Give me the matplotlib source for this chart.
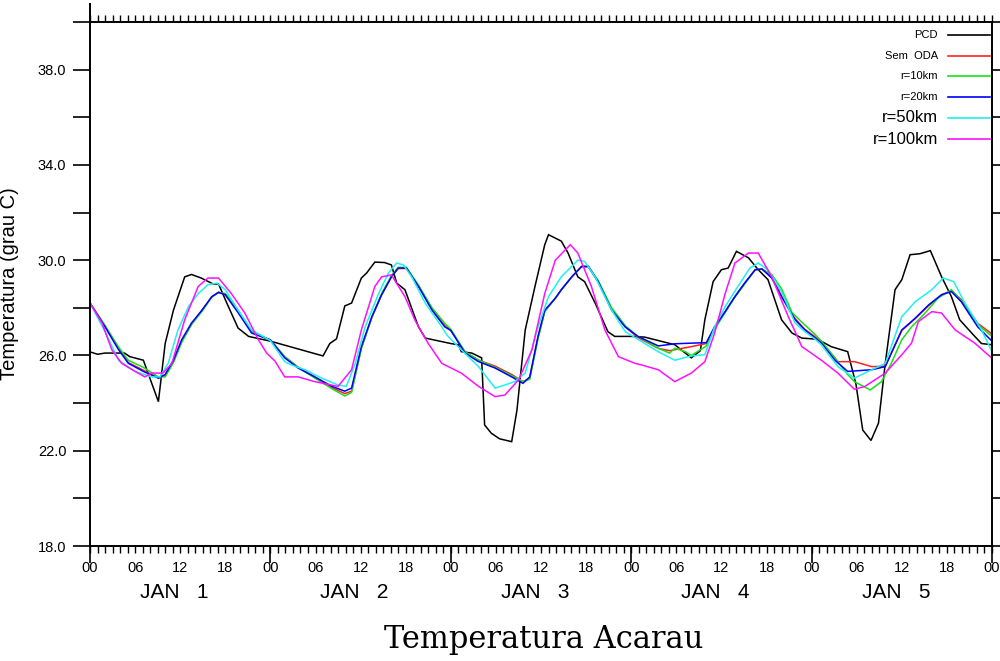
import matplotlib
matplotlib.use("Agg")
import matplotlib.pyplot as plt
from matplotlib.lines import Line2D
from matplotlib.ticker import FixedLocator, FuncFormatter

# ---------------- data (hours since 00Z Jan 1, temperature in C) ----------------
pcd_h = [0, 1, 2, 3, 4.6, 5.3, 7.1, 9.1, 10, 11.1, 12.6, 13.5, 14.8, 16.4, 17.1, 18.2, 19.7, 21.1,
         24, 31, 31.9, 32.8, 33.9, 34.8, 36.1, 36.8, 37.9, 39.2, 40.1, 40.8, 41.9, 43.7, 44.6,
         48, 49, 49.4, 50.8, 52.1, 52.5, 53.4, 54.5, 56.1, 56.8, 57.9, 59.2, 60.5, 61, 62.7, 63.6,
         64.9, 65.8, 67.2, 68.9, 69.8, 72, 73.8, 77.8, 80, 81.2, 81.8, 82.9, 84, 84.9, 86, 87.6,
         88.9, 90.2, 92, 93.4, 94.7, 96.8, 98.6, 100.8, 101.9, 102.8, 103.9, 104.9, 105.8, 107.1,
         108, 109.1, 110.4, 111.8, 113.3, 114.6, 115.7, 117.3, 118.6, 120]
pcd_t = [26.15, 26.05, 26.1, 26.1, 26.1, 25.95, 25.8, 24.06, 26.5, 27.9, 29.3, 29.4, 29.25, 29.0, 29.0, 28.2, 27.15, 26.8,
         26.6, 25.98, 26.5, 26.7, 28.08, 28.2, 29.25, 29.46, 29.92, 29.9, 29.8, 29.04, 28.76, 27.2, 26.73,
         26.5, 26.45, 26.16, 26.1, 25.9, 23.08, 22.73, 22.5, 22.38, 23.7, 27.07, 28.9, 30.65, 31.07, 30.8, 30.3,
         29.3, 29.1, 28.2, 27.0, 26.8, 26.8, 26.77, 26.45, 25.9, 26.2, 27.5, 29.1, 29.6, 29.67, 30.37, 30.1,
         29.6, 29.18, 27.5, 26.94, 26.73, 26.68, 26.37, 26.16, 24.8, 22.87, 22.43, 23.16, 25.67, 28.76,
         29.18, 30.23, 30.27, 30.4, 29.3, 28.47, 27.5, 26.94, 26.5, 26.45]

r20_h = [0, 2, 3.8, 5.1, 7.1, 9.1, 10, 11.1, 12.2, 13.5, 14.9, 16.2, 17.1, 18, 19.7, 21.5,
         24, 25.9, 27.7, 29.9, 32.2, 33.9, 34.8, 36.1, 37.5, 38.8, 40.1, 41, 42.1, 43.7, 45.5, 47.2,
         48, 49.9, 51.7, 53.9, 56.1, 57.6, 58.5, 59.6, 60.5, 61.9, 62.7, 64.1, 65.4, 66.3, 67.6, 69.4, 71.2,
         72.9, 75.6, 77.8, 82, 83.1, 84.5, 85.8, 87.1, 88.5, 89.4, 90.7, 92, 93.8, 95.1,
         96.4, 97.3, 99.1, 100.8, 104, 105.8, 108, 109.8, 111.6, 113.3, 114.6, 115.9, 118.1, 120]
r20_t = [28.2, 27.2, 26.24, 25.67, 25.33, 25.05, 25.2, 25.8, 26.66, 27.36, 27.9, 28.47, 28.65, 28.55, 27.8, 26.94,
         26.65, 25.9, 25.47, 25.1, 24.7, 24.5, 24.63, 26.37, 27.63, 28.55, 29.3, 29.67, 29.67, 28.9, 27.9, 27.2,
         27.05, 26.1, 25.74, 25.47, 25.1, 24.83, 25.1, 26.8, 27.9, 28.4, 28.76, 29.3, 29.74, 29.74, 29.1, 27.9, 27.2,
         26.8, 26.4, 26.49, 26.54, 27.2, 27.84, 28.47, 29.04, 29.6, 29.63, 29.25, 28.47, 27.5, 27.07,
         26.75, 26.52, 25.8, 25.33, 25.4, 25.53, 27.07, 27.57, 28.13, 28.55, 28.68, 28.26, 27.2, 26.6]

sem_h = [0, 2, 3.8, 5.1, 7.1, 9.1, 10, 11.1, 12.2, 13.5, 14.9, 16.2, 17.1, 18, 19.7, 21.5,
         24, 25.9, 27.7, 29.9, 32.2, 33.9, 34.8, 36.1, 37.5, 38.8, 40.1, 41, 42.1, 43.7, 45.5, 47.2,
         48, 49.9, 51.7, 53.9, 56.1, 57.6, 58.5, 59.6, 60.5, 61.9, 62.7, 64.1, 65.4, 66.3, 67.6, 69.4, 71.2,
         72.9, 75.6, 77.1, 80, 82, 83.1, 84.5, 85.8, 87.1, 88.5, 89.4, 90.7, 92, 93.8, 95.1,
         96.4, 97.3, 99.5, 101.7, 104, 105.8, 108, 109.8, 111.6, 113.3, 114.6, 115.9, 118.1, 120]
sem_t = [28.2, 27.25, 26.3, 25.7, 25.38, 25.05, 25.15, 25.75, 26.6, 27.3, 27.9, 28.45, 28.65, 28.55, 27.85, 27.0,
         26.65, 25.95, 25.5, 25.1, 24.65, 24.4, 24.5, 26.3, 27.6, 28.55, 29.3, 29.65, 29.65, 28.9, 27.95, 27.25,
         27.05, 26.15, 25.8, 25.55, 25.2, 24.9, 25.05, 26.75, 27.85, 28.4, 28.75, 29.3, 29.72, 29.72, 29.1, 27.95, 27.2,
         26.75, 26.3, 26.2, 26.37, 26.5, 27.2, 27.84, 28.47, 29.04, 29.6, 29.63, 29.3, 28.5, 27.55, 27.1,
         26.8, 26.55, 25.74, 25.74, 25.53, 25.55, 27.05, 27.55, 28.1, 28.55, 28.72, 28.35, 27.35, 26.9]

r10_h = [0, 2, 3.8, 5.1, 7.1, 9.1, 10, 11.1, 12.2, 13.5, 14.9, 16.2, 17.1, 18, 19.7, 21.5,
         24, 25.9, 27.7, 29.9, 32.2, 33.9, 34.8, 36.1, 37.5, 38.8, 40.1, 41, 42.1, 43.7, 45.5, 47.2,
         48, 49.9, 51.7, 53.9, 56.1, 57.6, 58.5, 59.6, 60.5, 61.9, 62.7, 64.1, 65.4, 66.3, 67.6, 69.4, 71.2,
         72.9, 75.6, 77.1, 77.8, 79.2, 80, 82, 83.1, 84.5, 85.8, 87.1, 88.5, 89.4, 90.7, 92, 93.4, 94.7,
         96.4, 97.3, 99.1, 100.8, 101.7, 103.8, 105.3, 106.6, 108, 109.3, 111.1, 112.8, 114.6, 115.9, 118.1, 120]
r10_t = [28.2, 27.25, 26.35, 25.8, 25.5, 25.1, 25.1, 25.7, 26.55, 27.3, 27.85, 28.45, 28.65, 28.6, 27.9, 27.0,
         26.65, 25.95, 25.5, 25.05, 24.6, 24.3, 24.45, 26.3, 27.6, 28.6, 29.35, 29.7, 29.7, 28.95, 28.0, 27.35,
         27.1, 26.15, 25.8, 25.5, 25.15, 24.9, 25.0, 26.7, 27.85, 28.4, 28.75, 29.3, 29.74, 29.74, 29.15, 28.0, 27.25,
         26.8, 26.3, 26.1, 26.3, 26.16, 26.0, 26.4, 27.1, 27.8, 28.45, 29.0, 29.6, 29.63, 29.4, 28.8, 27.8, 27.4,
         26.9, 26.6, 25.9, 25.2, 24.9, 24.55, 24.9, 25.67, 26.66, 27.2, 27.78, 28.4, 28.76, 28.3, 27.3, 26.8]

r50_h = [0, 2, 3.8, 6, 8.2, 9.3, 10.4, 11.7, 13.1, 14.4, 15.7, 16.9, 18, 19.7, 21.5,
         24, 25.9, 26.8, 28.6, 30.8, 33, 34.1, 35.3, 36.6, 38.4, 39.7, 40.8, 41.7, 42.8, 44.6, 46.8,
         47.5, 49.4, 51.7, 53.9, 55.2, 56.5, 57.9, 59.6, 61, 62.7, 64.9, 65.8, 67.2, 69.4, 71.2,
         73.4, 75.6, 77.8, 80, 81.8, 83.1, 84.5, 86.2, 87.8, 88.9, 90.2, 92, 93.8, 95.1,
         96.4, 97.3, 99.5, 101.7, 104, 105.8, 108, 109.8, 112, 113.5, 114.9, 116.4, 118.6, 120]
r50_t = [28.2, 27.0, 25.8, 25.33, 25.1, 25.1, 25.67, 27.07, 28.05, 28.6, 28.97, 29.04, 28.76, 27.9, 27.07,
         26.62, 25.74, 25.6, 25.4, 25.05, 24.76, 24.7, 25.67, 27.2, 28.6, 29.46, 29.88, 29.8, 29.3, 28.2, 27.2,
         26.85, 26.24, 25.53, 24.63, 24.76, 24.9, 25.26, 27.2, 28.47, 29.3, 30.0, 29.95, 29.3, 27.9, 27.0,
         26.58, 26.16, 25.8, 25.98, 26.03, 27.2, 28.05, 28.9, 29.67, 29.88, 29.6, 28.68, 27.36, 27.0,
         26.7, 26.45, 25.53, 25.05, 25.4, 25.67, 27.63, 28.26, 28.76, 29.25, 29.1, 28.2, 27.07, 26.16]

r100_h = [0, 1.6, 2.9, 4.2, 6, 7.3, 8.2, 9.7, 10.9, 12.6, 14.4, 15.7, 17.1, 18.8, 20.6, 22.4, 23.5,
          24.6, 25.9, 27.7, 29.9, 33, 34.8, 36.1, 37.9, 38.8, 40.1, 41.9, 43.2, 45, 46.8,
          48.5, 49.4, 51.7, 53.9, 55.2, 57, 58.8, 60.5, 61.9, 63.9, 64.9, 66.7, 68.5, 70.3,
          72.5, 73.4, 75.6, 77.8, 80, 81.8, 83.1, 84.5, 85.8, 87.6, 88.9, 90.7, 92.9, 94.7,
          95.5, 97.3, 99.5, 101.7, 103.1, 105.8, 108, 109.3, 110.2, 112, 113.3, 115.1, 117.7, 120]
r100_t = [28.2, 27.36, 26.24, 25.67, 25.33, 25.1, 25.26, 25.26, 25.67, 27.5, 28.9, 29.25, 29.25, 28.6, 27.78, 26.66, 26.1,
          25.77, 25.1, 25.1, 24.9, 24.7, 25.4, 27.07, 28.9, 29.3, 29.38, 28.47, 27.5, 26.5, 25.67,
          25.4, 25.26, 24.7, 24.27, 24.34, 24.97, 26.24, 28.6, 30.0, 30.65, 30.3, 28.9, 27.07, 25.95,
          25.67, 25.6, 25.4, 24.9, 25.26, 25.74, 26.94, 28.6, 29.88, 30.3, 30.3, 29.3, 27.63, 26.37,
          26.2, 25.8, 25.26, 24.58, 24.7, 25.26, 26.03, 26.52, 27.42, 27.84, 27.78, 27.07, 26.52, 25.88]

series_labels = ["PCD", "Sem  ODA", "r=10km", "r=20km", "r=50km", "r=100km"]
series_colors = ["#000000", "#ff2020", "#18e018", "#0000ff", "#20f0f0", "#ff10ff"]
hour_labels = ["00", "06", "12", "18"]
day_labels = ["JAN   1", "JAN   2", "JAN   3", "JAN   4", "JAN   5"]
y_labeled = [18, 22, 26, 30, 34, 38]

# ---------------- figure ----------------
W, H = 1000, 661
fig = plt.figure(figsize=(W / 100, H / 100), dpi=100)
L, R, T, B = 90, 992, 22, 546
ax = fig.add_axes([L / W, 1 - B / H, (R - L) / W, (B - T) / H])

data = [(pcd_h, pcd_t), (sem_h, sem_t), (r10_h, r10_t), (r20_h, r20_t), (r50_h, r50_t), (r100_h, r100_t)]
for (hh, tt), c, lab in zip(data, series_colors, series_labels):
    ax.plot(hh, tt, color=c, lw=1.1, label=lab, solid_joinstyle="miter")

ax.set_xlim(0, 120)
ax.set_ylim(18, 40)

for s in ax.spines.values():
    s.set_linewidth(1.4)

tickfont = dict(family="Liberation Sans", size=10.5)

# x axis
xt = list(range(0, 121, 6))
ax.xaxis.set_major_locator(FixedLocator(xt))
ax.xaxis.set_minor_locator(FixedLocator(list(range(0, 121))))
ax.set_xticklabels([hour_labels[(h // 6) % 4] for h in xt], **tickfont)
ax.tick_params(axis="x", which="both", direction="out", top=True, bottom=True,
               length=5, width=1.0, pad=6)
# long day-boundary ticks
sec = ax.secondary_xaxis("bottom")
sec.set_xticks(list(range(0, 121, 24)))
sec.set_xticklabels([])
sec.tick_params(direction="out", length=12, width=1.2)
sec.spines["bottom"].set_visible(False)
sect = ax.secondary_xaxis("top")
sect.set_xticks([0])
sect.set_xticklabels([])
sect.tick_params(direction="out", length=14, width=1.4)
sect.spines["top"].set_visible(False)

# y axis
ax.yaxis.set_major_locator(FixedLocator(list(range(18, 41, 2))))
ax.yaxis.set_major_formatter(FuncFormatter(lambda v, p: ("%.1f" % v) if int(round(v)) in y_labeled else ""))
ax.tick_params(axis="y", which="major", direction="out", left=True, right=True,
               length=12, width=1.2, pad=5)
for lbl in ax.get_yticklabels():
    lbl.set_family("Liberation Sans")
    lbl.set_size(10.5)

ax.set_ylabel("Temperatura (grau C)", family="Liberation Sans", size=14.5)
ax.yaxis.set_label_coords(-0.079, 0.5)

# day labels
for d, txt in enumerate(day_labels):
    ax.text(12 + 24 * d - 0.8, -0.088, txt, transform=ax.get_xaxis_transform(),
            ha="center", va="center", family="Liberation Sans", size=15)

# legend (drawn as in original, top right)
leg_y = [35, 56, 76, 97, 118, 139]
leg_size = [8, 8, 8, 8, 12, 12]
for lab, c, yy, fs in zip(series_labels, series_colors, leg_y, leg_size):
    fig.text(938 / W, 1 - yy / H, lab, ha="right", va="center", family="Liberation Sans", size=fs)
    fig.add_artist(Line2D([948 / W, 990 / W], [1 - yy / H, 1 - yy / H], color=c, lw=1.2,
                          transform=fig.transFigure))

fig.text(543.5 / W, 1 - 648 / H, "Temperatura Acarau", ha="center", va="baseline",
         family="DejaVu Serif", size=22)

fig.savefig("out.png", dpi=100)
